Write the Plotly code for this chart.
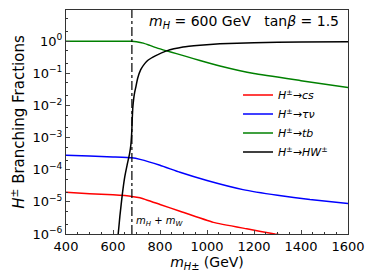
import plotly.graph_objects as go

# Data
mass_cs = [400, 500, 600, 680, 715, 800, 885, 1027, 1169, 1289, 1400, 1600]
br_cs = [2.0e-5, 1.8e-5, 1.65e-5, 1.48e-5, 1.35e-5, 8.3e-6, 5.1e-6, 2.3e-6, 1.45e-6, 1.0e-6, 7.6e-7, 5.0e-7]

mass_taunu = [400, 500, 600, 680, 715, 800, 885, 1000, 1153, 1300, 1438, 1600]
br_taunu = [2.8e-4, 2.65e-4, 2.5e-4, 2.35e-4, 2.1e-4, 1.38e-4, 8.3e-5, 4.6e-5, 2.4e-5, 1.6e-5, 1.18e-5, 8.9e-6]

mass_tb = [400, 500, 600, 680, 700, 729, 757, 786, 828, 870, 914, 970, 1055, 1200, 1400, 1600]
br_tb = [0.999, 0.999, 0.998, 0.997, 0.96, 0.87, 0.74, 0.62, 0.5, 0.41, 0.33, 0.25, 0.17, 0.098, 0.059, 0.036]

mass_hw = [615, 622, 630, 640, 650, 660, 670, 676, 680, 682, 684, 688, 692, 698, 705, 718, 735, 750, 780, 828, 898, 970, 1055, 1200, 1400, 1600]
br_hw = [5e-7, 1e-6, 4e-6, 1.8e-5, 6e-5, 1.4e-4, 3e-4, 6e-4, 1.6e-3, 4e-3, 8e-3, 1.6e-2, 2.5e-2, 4e-2, 7e-2, 0.13, 0.2, 0.26, 0.35, 0.5, 0.66, 0.75, 0.83, 0.9, 0.94, 0.96]

threshold_x = [680.4, 680.4]
threshold_y = [1e-6, 10]

series_names = ["<i>H</i><sup>±</sup>→<i>cs</i>", "<i>H</i><sup>±</sup>→<i>τν</i>",
                "<i>H</i><sup>±</sup>→<i>tb</i>", "<i>H</i><sup>±</sup>→<i>HW</i><sup>±</sup>"]
colors = ["#ff0000", "#0000ff", "#008000", "#000000"]

x_ticks = [400, 600, 800, 1000, 1200, 1400, 1600]
y_tickvals = [1e-6, 1e-5, 1e-4, 1e-3, 1e-2, 1e-1, 1]
y_ticktext = ["10<sup>−6</sup>", "10<sup>−5</sup>", "10<sup>−4</sup>", "10<sup>−3</sup>",
              "10<sup>−2</sup>", "10<sup>−1</sup>", "10<sup>0</sup>"]

FONT = "DejaVu Sans"

fig = go.Figure()
for xs, ys, name, c in zip([mass_cs, mass_taunu, mass_tb, mass_hw],
                           [br_cs, br_taunu, br_tb, br_hw], series_names, colors):
    fig.add_trace(go.Scatter(x=xs, y=ys, mode="lines", name=name,
                             line=dict(color=c, width=1.5, shape="spline", smoothing=0.4)))

fig.add_trace(go.Scatter(x=threshold_x, y=threshold_y, mode="lines", showlegend=False,
                         line=dict(color="black", width=1.2, dash="dashdot")))

# the page body has an 8px margin, so the figure is 8px smaller than the window
fig.update_layout(
    width=366, height=272,
    margin=dict(l=58, r=26, t=2, b=46),
    paper_bgcolor="white", plot_bgcolor="white",
    font=dict(family=FONT, size=13, color="black"),
    showlegend=True,
    legend=dict(x=0.61, y=0.685, xanchor="left", yanchor="top",
                bgcolor="rgba(0,0,0,0)", font=dict(size=11, family=FONT),
                tracegroupgap=0, itemwidth=30),
    annotations=[
        dict(text="<i>m<sub>H</sub></i> = 600 GeV\u00a0\u00a0\u00a0tan<i>β</i> = 1.5",
             xref="paper", yref="paper", x=0.632, y=0.945, showarrow=False,
             font=dict(size=14, family=FONT), xanchor="center", yanchor="middle"),
        dict(text="<i>m<sub>H</sub></i> + <i>m<sub>W</sub></i>",
             xref="x", yref="y", x=688, y=-5.62, showarrow=False,
             font=dict(size=10, family=FONT), xanchor="left", yanchor="middle"),
    ],
)

fig.update_xaxes(range=[400, 1600], tickvals=x_ticks, ticks="inside", ticklen=4,
                 showline=True, linecolor="#333", linewidth=1, mirror=True, showgrid=False,
                 zeroline=False,
                 minor=dict(dtick=50, ticks="inside", ticklen=2, tickcolor="#333"),
                 title=dict(text="<i>m</i><sub><i>H</i>±</sub> (GeV)", font=dict(size=14), standoff=4))
fig.update_yaxes(type="log", range=[-6, 0.97], tickvals=y_tickvals, ticktext=y_ticktext,
                 ticks="inside", ticklen=4,
                 showline=True, linecolor="#333", linewidth=1, mirror=True, showgrid=False,
                 zeroline=False,
                 minor=dict(ticks="inside", ticklen=2, tickcolor="#333"),
                 title=dict(text="<i>H</i><sup>±</sup> Branching Fractions", font=dict(size=15), standoff=6))

fig.write_html("out.html")
